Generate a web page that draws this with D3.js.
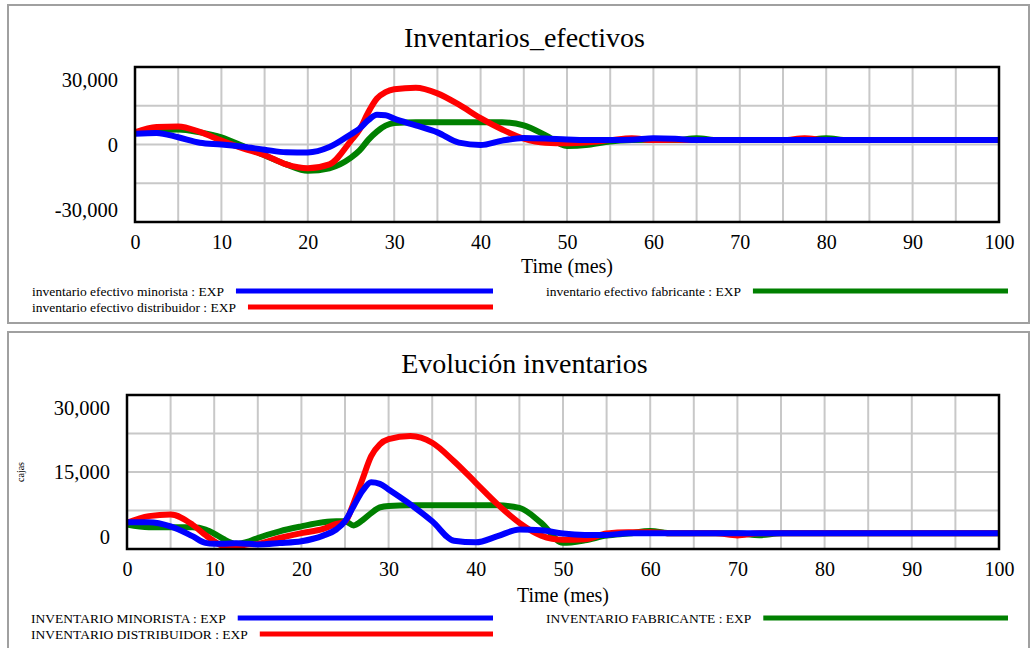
<!DOCTYPE html>
<html>
<head>
<meta charset="utf-8">
<script src="https://cdn.jsdelivr.net/npm/d3@7"></script>
<style>
  body { margin: 0; background: #fff; }
  svg { display: block; font-family: "Liberation Serif", "Times New Roman", serif; }
</style>
</head>
<body>
<div class="my_div"></div>
<script>
// Time axis (mes)
var timeTicks = [0, 10, 20, 30, 40, 50, 60, 70, 80, 90, 100];

// Top chart: Inventarios_efectivos
var timesTop = [0, 2.5, 5, 7.5, 10, 12.5, 15, 17.5, 20, 22.5, 25, 26, 27, 28, 29, 30, 32.5, 35, 37.5, 40,
    42.5, 45, 47.5, 50, 52.5, 55, 57.5, 60, 62.5, 65, 67.5, 70, 75, 77.5, 80, 82.5, 85, 90, 95, 100];
var efectivoMinorista = [4200, 4500, 2800, 700, 0, -900, -2000, -3000, -3100, -1000, 4000, 6200, 9400, 11500, 11300, 10000, 7400, 4700, 700, -200,
    1500, 2500, 2300, 1900, 1700, 1700, 1800, 2400, 2200, 1700, 1700, 1700, 1700, 1700, 1700, 1700, 1700, 1700, 1700, 1700];
var efectivoDistribuidor = [4700, 6800, 7000, 4900, 1500, -1500, -4100, -7700, -9200, -7700, 1500, 5800, 12500, 17800, 20300, 21400, 22000, 19800, 15400, 10200,
    5800, 2300, 700, 500, 900, 1700, 2400, 1700, 1800, 1700, 1700, 1700, 1700, 2400, 1700, 1700, 1700, 1700, 1700, 1700];
var efectivoFabricante = [4500, 5400, 5800, 4700, 2800, -600, -4200, -7700, -10200, -9200, -5100, -2300, 1800, 5000, 7300, 8300, 8600, 8600, 8600, 8600,
    8600, 7400, 3600, -600, -100, 1200, 1700, 1800, 1700, 2400, 1700, 1700, 1700, 1700, 2400, 1700, 1700, 1700, 1700, 1700];
var yTicksTop = [-30000, 0, 30000];

// Bottom chart: Evolución inventarios
var timesBottom = [0, 2.5, 5, 7.5, 9, 10, 11, 12.5, 14, 15, 17.5, 20, 22.5, 24, 25, 26, 27, 28, 29, 30, 32.5,
    35, 37.5, 40, 42.5, 45, 47.5, 50, 52.5, 55, 57.5, 60, 62.5, 65, 67.5, 70, 72.5, 75, 80, 85, 90, 95, 100];
var invMinorista = [5200, 5200, 4400, 2500, 1200, 1000, 1000, 1100, 1000, 900, 1150, 1500, 2600, 3800, 5400, 8400, 11300, 13000, 12700, 11600, 8700,
    5400, 1600, 1300, 2500, 3800, 3650, 3000, 2750, 2750, 3050, 3050, 3050, 3050, 3050, 3050, 3050, 3050, 3050, 3050, 3050, 3050, 3050];
var invDistribuidor = [5100, 6400, 6700, 4750, 2700, 1500, 650, 650, 900, 1000, 2150, 3100, 3900, 4900, 5300, 9000, 13600, 18100, 20400, 21400, 22000,
    20700, 17100, 12900, 8700, 5100, 2600, 1800, 1900, 3000, 3250, 3250, 3050, 3050, 3050, 2650, 3050, 3050, 3050, 3050, 3050, 3050, 3050];
var invFabricante = [4750, 4250, 4250, 4250, 3800, 3000, 2000, 1000, 1500, 2150, 3450, 4400, 5200, 5400, 5400, 4600, 5600, 7000, 8100, 8400, 8500,
    8500, 8500, 8500, 8500, 8000, 5100, 1200, 1700, 2600, 3000, 3500, 3050, 3050, 3050, 3050, 2700, 3050, 3050, 3050, 3050, 3050, 3050];
var yTicksBottom = [0, 15000, 30000];

var svg = d3.select(".my_div")
    .append("svg")
    .attr("width", 1031)
    .attr("height", 648)

// Thousands with a plain hyphen for negatives, like Vensim
var fmt = (d) => { return d3.format(",")(d).replace("\u2212", "-") }

function drawPanel(p) {
    var g = svg.append("g")

    // Grey window frame
    g.append("rect")
        .attr("x", p.frame[0]).attr("y", p.frame[1])
        .attr("width", p.frame[2]).attr("height", p.frame[3])
        .attr("fill", "white")
        .attr("stroke", "#a0a0a0")
        .attr("stroke-width", 2)

    var x = d3.scaleLinear().domain([0, 100]).range([p.left, p.right]);
    var y = d3.scaleLinear().domain(p.yDomain).range([p.bottom, p.top]);

    // Grid every 5 months and every quarter of the y range
    var d0 = p.yDomain[0], d1 = p.yDomain[1];
    var yGrid = [1, 2, 3].map((i) => { return d0 + i * (d1 - d0) / 4 })

    g.append("g").selectAll("line")
        .data(x.ticks(20).filter((d) => { return d > 0 && d < 100 }))
        .enter().append("line")
        .attr("x1", (d) => { return x(d) }).attr("x2", (d) => { return x(d) })
        .attr("y1", p.top).attr("y2", p.bottom)
        .attr("stroke", "#c8c8c8").attr("stroke-width", 2)

    g.append("g").selectAll("line")
        .data(yGrid)
        .enter().append("line")
        .attr("x1", p.left).attr("x2", p.right)
        .attr("y1", (d) => { return y(d) }).attr("y2", (d) => { return y(d) })
        .attr("stroke", "#c8c8c8").attr("stroke-width", 2)

    // Axes
    var xAxis = g.append("g")
        .attr("transform", "translate(0," + p.bottom + ")")
        .call(d3.axisBottom(x).tickValues(timeTicks).tickSize(0).tickPadding(12.5))
    xAxis.select(".domain").remove()
    xAxis.attr("font-family", null).attr("font-size", 20)
    xAxis.selectAll("text").attr("fill", "black")

    var yAxis = g.append("g")
        .attr("transform", "translate(" + p.left + ",0)")
        .call(d3.axisLeft(y).tickValues(p.yTicks).tickSize(0).tickPadding(17).tickFormat(fmt))
    yAxis.select(".domain").remove()
    yAxis.attr("font-family", null).attr("font-size", 20.5)
    yAxis.selectAll("text")
        .attr("fill", "black")
        .attr("transform", (d) => { return d === d1 ? "translate(0,13)" : d === d0 ? "translate(0,-12)" : null })

    // Series (green first, blue on top)
    var line = d3.line()
        .x((d) => { return x(d[0]) })
        .y((d) => { return y(d[1]) })
        .curve(d3.curveMonotoneX)

    p.series.forEach((s) => {
        g.append("path")
            .datum(p.times.map((t, i) => { return [t, s.values[i]] }))
            .attr("d", line)
            .attr("fill", "none")
            .attr("stroke", s.color)
            .attr("stroke-width", 6)
            .attr("stroke-linejoin", "round")
    })

    // Plot border
    g.append("rect")
        .attr("x", p.left).attr("y", p.top)
        .attr("width", p.right - p.left).attr("height", p.bottom - p.top)
        .attr("fill", "none")
        .attr("stroke", "black")
        .attr("stroke-width", 2.5)

    // Title and axis label
    g.append("text")
        .text(p.title)
        .attr("x", 524.5).attr("y", p.titleY)
        .attr("text-anchor", "middle")
        .attr("font-size", 28)

    g.append("text")
        .text("Time (mes)")
        .attr("x", (p.left + p.right) / 2).attr("y", p.timeY)
        .attr("text-anchor", "middle")
        .attr("font-size", 20)

    if (p.units) {
        g.append("text")
            .text(p.units)
            .attr("transform", "translate(24," + ((p.top + p.bottom) / 2) + ") rotate(-90)")
            .attr("text-anchor", "middle")
            .attr("font-size", 10)
    }

    // Legend
    p.legend.forEach((l) => {
        var t = g.append("text")
            .text(l.label)
            .attr("x", l.x).attr("y", l.y)
            .attr("font-size", 13.5)
        var w = t.node().getComputedTextLength()
        g.append("line")
            .attr("x1", l.x + w + 12).attr("x2", l.end)
            .attr("y1", l.y - 5).attr("y2", l.y - 5)
            .attr("stroke", l.color)
            .attr("stroke-width", 5)
    })
}

drawPanel({
    frame: [8, 5, 1021, 318],
    left: 135, right: 999, top: 67, bottom: 222,
    yDomain: [-30000, 30000],
    yTicks: yTicksTop,
    title: "Inventarios_efectivos",
    titleY: 47,
    timeY: 273,
    times: timesTop,
    series: [
        { values: efectivoFabricante, color: "#008000" },
        { values: efectivoDistribuidor, color: "#ff0000" },
        { values: efectivoMinorista, color: "#0000ff" }
    ],
    legend: [
        { label: "inventario efectivo minorista : EXP", x: 32, y: 296, end: 493, color: "#0000ff" },
        { label: "inventario efectivo distribuidor : EXP", x: 32, y: 312, end: 493, color: "#ff0000" },
        { label: "inventario efectivo fabricante : EXP", x: 546, y: 296, end: 1008, color: "#008000" }
    ]
})

drawPanel({
    frame: [8, 332, 1021, 330],
    left: 127, right: 999, top: 395, bottom: 549,
    yDomain: [0, 30000],
    yTicks: yTicksBottom,
    title: "Evolución inventarios",
    titleY: 373,
    timeY: 602,
    units: "cajas",
    times: timesBottom,
    series: [
        { values: invFabricante, color: "#008000" },
        { values: invDistribuidor, color: "#ff0000" },
        { values: invMinorista, color: "#0000ff" }
    ],
    legend: [
        { label: "INVENTARIO MINORISTA : EXP", x: 31, y: 623, end: 493, color: "#0000ff" },
        { label: "INVENTARIO DISTRIBUIDOR : EXP", x: 31, y: 639, end: 493, color: "#ff0000" },
        { label: "INVENTARIO FABRICANTE : EXP", x: 546, y: 623, end: 1008, color: "#008000" }
    ]
})
</script>
</body>
</html>
